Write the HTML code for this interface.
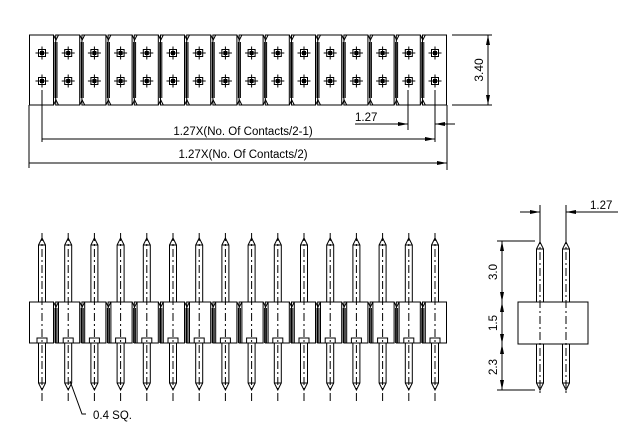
<!DOCTYPE html>
<html><head><meta charset="utf-8"><style>
html,body{margin:0;padding:0;background:#fff;width:641px;height:437px;overflow:hidden}
svg{display:block}
text{font-family:"Liberation Sans",sans-serif;fill:#000}
</style></head><body>
<svg id="s" width="641" height="437" viewBox="0 0 641 437" xmlns="http://www.w3.org/2000/svg" stroke="#000" stroke-width="1" fill="none">
<defs>
<marker id="a" viewBox="0 0 10 6" refX="10" refY="3" markerWidth="10" markerHeight="6" orient="auto-start-reverse" markerUnits="userSpaceOnUse"><path d="M0,1 L10,3 L0,5 Z" fill="#000" stroke="none"/></marker>
</defs>
<g id="g"></g>
<!-- top view dims -->
<line x1="29" y1="105" x2="29" y2="168"/>
<line x1="42" y1="90" x2="42" y2="142"/>
<line x1="435" y1="90" x2="435" y2="142"/>
<line x1="408" y1="90" x2="408" y2="130"/>
<line x1="447" y1="105" x2="447" y2="170"/>
<line x1="42" y1="139" x2="435" y2="139" marker-end="url(#a)"/>
<line x1="29" y1="163" x2="447" y2="163" marker-end="url(#a)"/>
<line x1="355" y1="124" x2="408" y2="124" marker-end="url(#a)"/>
<line x1="455" y1="124" x2="435" y2="124" marker-end="url(#a)"/>
<text x="243" y="135" font-size="11.5" text-anchor="middle" stroke="none">1.27X(No. Of Contacts/2-1)</text>
<text x="243" y="158" font-size="11.5" text-anchor="middle" stroke="none">1.27X(No. Of Contacts/2)</text>
<text x="355" y="121" font-size="11.5" stroke="none">1.27</text>
<line x1="452" y1="35" x2="492" y2="35"/>
<line x1="452" y1="105" x2="492" y2="105"/>
<line x1="488" y1="35" x2="488" y2="105" marker-start="url(#a)" marker-end="url(#a)"/>
<text transform="translate(483,70) rotate(-90)" font-size="12" text-anchor="middle" stroke="none">3.40</text>
<!-- leader -->
<polyline points="70,381 82,414 86,414"/>
<text x="93" y="419" font-size="11.5" stroke="none">0.4  SQ.</text>
<!-- side view -->
<rect x="518" y="302" width="70" height="42"/>
<line x1="540" y1="205" x2="540" y2="240"/>
<line x1="566" y1="205" x2="566" y2="240"/>
<line x1="520" y1="212" x2="540" y2="212" marker-end="url(#a)"/>
<line x1="618" y1="212" x2="566" y2="212" marker-end="url(#a)"/>
<text x="590" y="209" font-size="11.5" stroke="none">1.27</text>
<line x1="497" y1="241" x2="535" y2="241"/>
<line x1="497" y1="390" x2="535" y2="390"/>
<line x1="502" y1="241" x2="502" y2="302" marker-start="url(#a)" marker-end="url(#a)"/>
<line x1="502" y1="302" x2="502" y2="344" marker-start="url(#a)" marker-end="url(#a)"/>
<line x1="502" y1="344" x2="502" y2="390" marker-start="url(#a)" marker-end="url(#a)"/>
<text transform="translate(497,272) rotate(-90)" font-size="11.5" text-anchor="middle" stroke="none">3.0</text>
<text transform="translate(497,323) rotate(-90)" font-size="11.5" text-anchor="middle" stroke="none">1.5</text>
<text transform="translate(497,367) rotate(-90)" font-size="11.5" text-anchor="middle" stroke="none">2.3</text>
</svg>
<script>
var g=document.getElementById('g'),h='';
function pin(x,top){ // front-view pin
  h+='<path d="M'+(x-3.5)+',390 L'+(x-3.5)+',343 M'+(x+3.5)+',390 L'+(x+3.5)+',343"/>';
}
for(var i=0;i<16;i++){
  var c=42+i*26.2;
  // top view cell
  var l=c-12.5,r=c+11.5;
  h+='<path d="M'+l+',35 L'+r+',35 L'+r+',105 L'+l+',105 Z"/>';
  if(i<15){h+='<path d="M'+(r+1.5)+',42 L'+(r+1.5)+',98 M'+(r+3.5)+',42 L'+(r+3.5)+',98 M'+r+',35 L'+(r+2.5)+',40 L'+(r+5)+',35 M'+r+',105 L'+(r+2.5)+',100 L'+(r+5)+',105"/>';}
  [53,81].forEach(function(y){
    h+='<rect x="'+(c-3.5)+'" y="'+(y-3.5)+'" width="7" height="7"/><rect x="'+(c-1.5)+'" y="'+(y-1.5)+'" width="3" height="3" fill="#000"/><line x1="'+(c-6.5)+'" y1="'+y+'" x2="'+(c+6.5)+'" y2="'+y+'"/><line x1="'+c+'" y1="'+(y-6.5)+'" x2="'+c+'" y2="'+(y+6.5)+'"/>';
  });
  // front view
  h+='<path d="M'+(c-3.5)+',302 L'+(c-3.5)+',245 L'+c+',238 L'+(c+3.5)+',245 L'+(c+3.5)+',302 M'+(c-3.5)+',245 L'+(c+3.5)+',245"/>';
  h+='<path d="M'+(c-5)+',343 L'+(c-5)+',338 L'+(c+5)+',338 L'+(c+5)+',343 M'+(c-3.5)+',343 L'+(c-3.5)+',383 L'+c+',390 L'+(c+3.5)+',383 L'+(c+3.5)+',343 M'+(c-3.5)+',383 L'+(c+3.5)+',383"/>';
  h+='<line x1="'+c+'" y1="233" x2="'+c+'" y2="402" stroke-dasharray="8,3,2,3"/>';
  h+='<path d="M'+l+',302 L'+r+',302 L'+r+',343 L'+l+',343 Z" fill="none"/>';
  if(i<15){h+='<path d="M'+(r+1.5)+',308 L'+(r+1.5)+',343 M'+(r+3.5)+',308 L'+(r+3.5)+',343 M'+r+',302 L'+(r+2.5)+',307 L'+(r+5)+',302 L'+(r+5)+',343"/>';}
}
// side view pins
[540,566].forEach(function(c){
  h+='<path d="M'+(c-3.5)+',302 L'+(c-3.5)+',249 L'+c+',242 L'+(c+3.5)+',249 L'+(c+3.5)+',302 M'+(c-3.5)+',249 L'+(c+3.5)+',249"/>';
  h+='<path d="M'+(c-3.5)+',344 L'+(c-3.5)+',383 L'+c+',390 L'+(c+3.5)+',383 L'+(c+3.5)+',344 M'+(c-3.5)+',383 L'+(c+3.5)+',383"/>';
  h+='<line x1="'+c+'" y1="236" x2="'+c+'" y2="396" stroke-dasharray="8,3,2,3"/>';
});
g.innerHTML=h;
</script>
</body></html>
